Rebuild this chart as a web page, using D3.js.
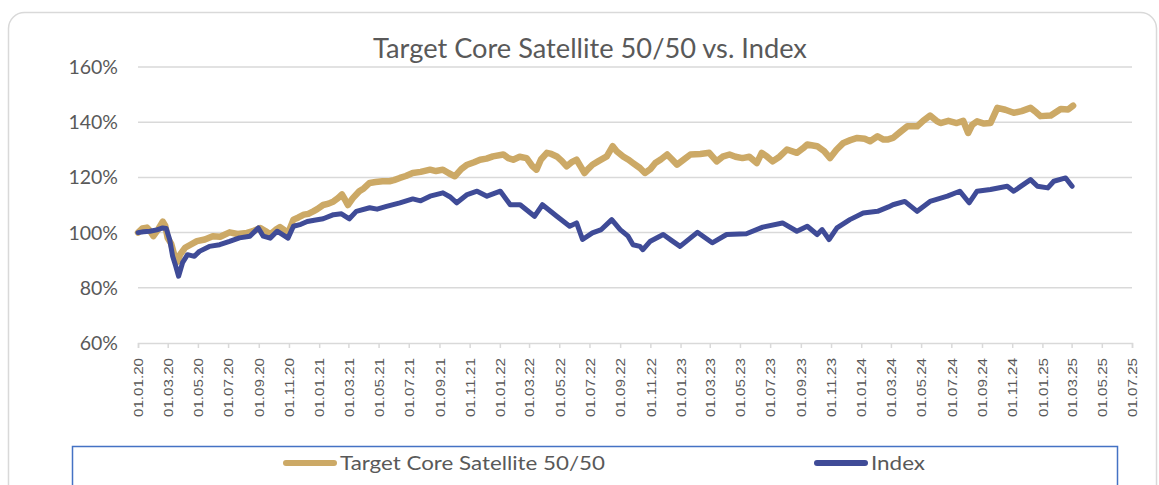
<!DOCTYPE html>
<html><head><meta charset="utf-8">
<script src="https://cdn.jsdelivr.net/npm/d3@7/dist/d3.min.js"></script>
<style>
html,body{margin:0;padding:0;background:#fff;}
svg{display:block;}
</style></head><body>
<svg id="chart" width="1159" height="485"></svg>
<script>
const chartTitle = "Target Core Satellite 50/50 vs. Index";
const seriesNames = ["Target Core Satellite 50/50", "Index"];
const yTicks = [60, 80, 100, 120, 140, 160];
const xStart = "2020-01-01", xEnd = "2025-07-01";

const tcsDates = ["2020-01-01","2020-01-10","2020-01-19","2020-01-26","2020-02-01","2020-02-10","2020-02-20","2020-02-25","2020-03-01","2020-03-08","2020-03-15","2020-03-21","2020-03-26","2020-04-05","2020-04-15","2020-04-29","2020-05-15","2020-05-31","2020-06-15","2020-07-04","2020-07-20","2020-08-08","2020-08-20","2020-09-04","2020-09-15","2020-09-24","2020-10-05","2020-10-14","2020-10-22","2020-10-28","2020-11-03","2020-11-10","2020-11-20","2020-12-01","2020-12-10","2020-12-20","2020-12-28","2021-01-09","2021-01-20","2021-01-30","2021-02-08","2021-02-16","2021-02-22","2021-02-28","2021-03-10","2021-03-23","2021-04-01","2021-04-13","2021-04-25","2021-05-09","2021-05-23","2021-06-01","2021-06-13","2021-06-25","2021-07-09","2021-07-25","2021-08-13","2021-08-25","2021-09-08","2021-09-20","2021-10-02","2021-10-15","2021-10-27","2021-11-10","2021-11-22","2021-12-05","2021-12-18","2022-01-08","2022-01-18","2022-01-28","2022-02-10","2022-02-24","2022-03-08","2022-03-16","2022-03-25","2022-04-06","2022-04-15","2022-04-26","2022-05-06","2022-05-16","2022-05-26","2022-06-05","2022-06-13","2022-06-21","2022-06-28","2022-07-07","2022-07-20","2022-08-05","2022-08-17","2022-08-25","2022-09-07","2022-09-17","2022-09-27","2022-10-11","2022-10-21","2022-11-01","2022-11-11","2022-11-22","2022-12-05","2022-12-15","2022-12-25","2023-01-08","2023-01-21","2023-02-10","2023-02-28","2023-03-15","2023-03-27","2023-04-10","2023-04-22","2023-05-06","2023-05-20","2023-06-04","2023-06-14","2023-06-25","2023-07-06","2023-07-20","2023-08-04","2023-08-24","2023-09-05","2023-09-14","2023-10-04","2023-10-18","2023-10-30","2023-11-12","2023-11-26","2023-12-10","2023-12-24","2024-01-08","2024-01-19","2024-02-03","2024-02-15","2024-02-23","2024-03-05","2024-03-20","2024-04-03","2024-04-23","2024-05-05","2024-05-19","2024-06-01","2024-06-09","2024-06-25","2024-07-12","2024-07-25","2024-08-04","2024-08-12","2024-08-22","2024-09-05","2024-09-18","2024-10-02","2024-10-18","2024-11-04","2024-11-20","2024-12-08","2024-12-20","2024-12-28","2025-01-18","2025-02-07","2025-02-22","2025-03-04"];
const tcsValues = [100,101.5,101.8,100.5,98.7,101,104,102.5,98,96,91.4,89.5,92,94.5,95.5,96.9,97.5,98.7,98.5,100.1,99.5,99.9,100.5,101.7,100.5,99.3,101,102,101,98.7,101.5,104.7,105.5,106.5,106.8,107.7,108.5,110,110.5,111.3,112.5,113.8,112,110,112.5,115,116,118,118.3,118.6,118.6,119,119.8,120.5,121.6,122,122.8,122.3,122.8,121.5,120.4,123,124.6,125.5,126.4,126.8,127.6,128.3,127,126.4,127.5,127,124,122.8,126.5,128.9,128.5,127.6,126,124,125.5,126.4,124,121.6,123,124.6,126,127.6,131.3,129.5,127.6,126.5,125.2,123.4,121.6,123,125.2,126.5,128.3,126.5,124.6,126.5,128.3,128.5,128.9,125.8,127.5,128.3,127.5,127,127.5,125.2,128.9,127.5,125.8,127.5,130.1,128.9,130.5,131.9,131.3,129.5,127,130,132.5,133.5,134.3,134,133.1,134.9,133.7,133.7,134.3,136.5,138.5,138.5,140.5,142.4,140.5,139.7,140.5,139.7,140.5,136.1,139,140.3,139.5,139.7,145.2,144.5,143.4,144,145.2,143.5,142.2,142.4,144.8,144.6,146];

const indexDates = ["2020-01-01","2020-01-12","2020-01-25","2020-02-08","2020-02-20","2020-02-27","2020-03-05","2020-03-11","2020-03-17","2020-03-23","2020-03-31","2020-04-10","2020-04-24","2020-05-04","2020-05-24","2020-06-14","2020-07-04","2020-07-24","2020-08-14","2020-08-31","2020-09-10","2020-09-24","2020-10-08","2020-10-30","2020-11-10","2020-11-25","2020-12-08","2020-12-22","2021-01-09","2021-01-30","2021-02-15","2021-03-03","2021-03-17","2021-04-13","2021-04-28","2021-05-17","2021-06-13","2021-07-09","2021-07-25","2021-08-13","2021-09-08","2021-09-22","2021-10-06","2021-10-27","2021-11-16","2021-12-06","2022-01-02","2022-01-22","2022-02-11","2022-03-12","2022-03-28","2022-04-26","2022-05-22","2022-06-05","2022-06-17","2022-07-07","2022-07-25","2022-08-15","2022-09-01","2022-09-17","2022-09-27","2022-10-11","2022-10-17","2022-11-01","2022-11-27","2022-12-15","2022-12-31","2023-02-04","2023-03-06","2023-04-04","2023-05-14","2023-06-16","2023-07-26","2023-08-24","2023-09-14","2023-10-04","2023-10-14","2023-10-28","2023-11-13","2023-12-09","2024-01-05","2024-02-03","2024-02-25","2024-03-05","2024-03-29","2024-04-23","2024-05-19","2024-06-23","2024-07-18","2024-08-06","2024-08-22","2024-09-18","2024-10-22","2024-11-04","2024-12-08","2024-12-22","2025-01-12","2025-01-24","2025-02-17","2025-03-02"];
const indexValues = [100,100.3,100.5,101,101.7,101.5,97.5,91.4,88,84.2,89.1,92,91.4,93.2,95,95.6,96.8,98.1,98.7,101.7,98.7,98,100.5,98,102.3,103,104,104.5,105,106.5,106.8,105,107.7,109,108.5,109.5,110.8,112.2,111.5,113.2,114.4,113,110.8,113.8,115,113.2,115,110.1,110.1,105.9,110.1,105.9,102.3,103.5,97.5,99.9,101.1,104.7,101.1,98.7,95.6,95,93.8,96.9,99.3,97,95,100.1,96.3,99.3,99.6,102,103.5,100.5,102.3,99.3,101.1,97.5,101.7,104.7,107.1,107.7,109.3,110.1,111.3,107.7,111.3,113.2,115,110.8,115,115.6,116.8,115,119.2,116.8,116.2,118.6,119.8,116.8];

const parse = d3.timeParse("%Y-%m-%d");
const tcs = tcsDates.map((d, i) => ({date: parse(d), value: tcsValues[i]}));
const idx = indexDates.map((d, i) => ({date: parse(d), value: indexValues[i]}));

const svg = d3.select("#chart");
const gold = "#CCA966", navy = "#3F4B97", grid = "#D9D9D9", txt = "#595959";

// outer frame
svg.append("rect").attr("x", 8.5).attr("y", 12.5).attr("width", 1148).attr("height", 500)
  .attr("rx", 16).attr("fill", "none").attr("stroke", grid).attr("stroke-width", 1.5);

const x = d3.scaleTime().domain([parse(xStart), parse(xEnd)]).range([138, 1132]);
const y = d3.scaleLinear().domain([60, 160]).range([343, 67]);

// gridlines
svg.append("g").selectAll("line").data(yTicks.filter(t => t > 60)).join("line")
  .attr("x1", 138).attr("x2", 1132).attr("y1", d => y(d)).attr("y2", d => y(d))
  .attr("stroke", grid).attr("stroke-width", 1.5);

// y labels
svg.append("g").selectAll("text").data(yTicks).join("text")
  .attr("x", 118).attr("y", d => y(d) + 7).attr("text-anchor", "end")
  .attr("font-family", "Lato").attr("font-size", 19.5).attr("fill", txt)
  .text(d => d + "%");

// x axis
const xAxis = d3.axisBottom(x).ticks(d3.timeMonth.every(2)).tickSize(5).tickFormat(d3.timeFormat("%d.%m.%y"));
const gx = svg.append("g").attr("transform", "translate(0,343)").call(xAxis);
gx.select(".domain").attr("stroke", grid).attr("stroke-width", 1.5);
gx.selectAll(".tick line").attr("stroke", grid).attr("stroke-width", 1.5);
gx.selectAll(".tick text")
  .attr("font-family", "Liberation Sans").attr("font-size", 12.5).attr("fill", txt)
  .attr("text-anchor", "end").attr("transform", "rotate(-90)")
  .attr("x", -15).attr("y", 0).attr("dy", "0.38em").attr("dx", null)
  .attr("textLength", 59).attr("lengthAdjust", "spacingAndGlyphs");

// lines
const line = d3.line().x(d => x(d.date)).y(d => y(d.value));
svg.append("path").datum(tcs).attr("d", line).attr("fill", "none")
  .attr("stroke", gold).attr("stroke-width", 6.5).attr("stroke-linejoin", "round").attr("stroke-linecap", "round");
svg.append("path").datum(idx).attr("d", line).attr("fill", "none")
  .attr("stroke", navy).attr("stroke-width", 5).attr("stroke-linejoin", "round").attr("stroke-linecap", "round");

// title
const title = svg.append("text").attr("x", 590).attr("y", 58).attr("text-anchor", "middle")
  .attr("font-family", "Lato").attr("font-size", 22).attr("fill", txt).text(chartTitle);
const tw = title.node().getComputedTextLength();
title.attr("font-size", 22 * 434 / tw);

// legend
svg.append("rect").attr("x", 72.5).attr("y", 446.5).attr("width", 1045).attr("height", 60)
  .attr("fill", "none").attr("stroke", "#4472C4").attr("stroke-width", 1.5);
const legendItems = [
  {name: seriesNames[0], color: gold, sx: 286, tw: 265},
  {name: seriesNames[1], color: navy, sx: 817, tw: 54}
];
const lg = svg.append("g").selectAll("g").data(legendItems).join("g");
lg.append("line").attr("x1", d => d.sx).attr("x2", d => d.sx + 48).attr("y1", 463).attr("y2", 463)
  .attr("stroke", d => d.color).attr("stroke-width", 6).attr("stroke-linecap", "round");
lg.append("text").attr("x", d => d.sx + 54).attr("y", 470)
  .attr("font-family", "Lato").attr("font-size", 19.5).attr("fill", txt)
  .attr("textLength", d => d.tw).attr("lengthAdjust", "spacingAndGlyphs")
  .text(d => d.name);
</script>
</body></html>
